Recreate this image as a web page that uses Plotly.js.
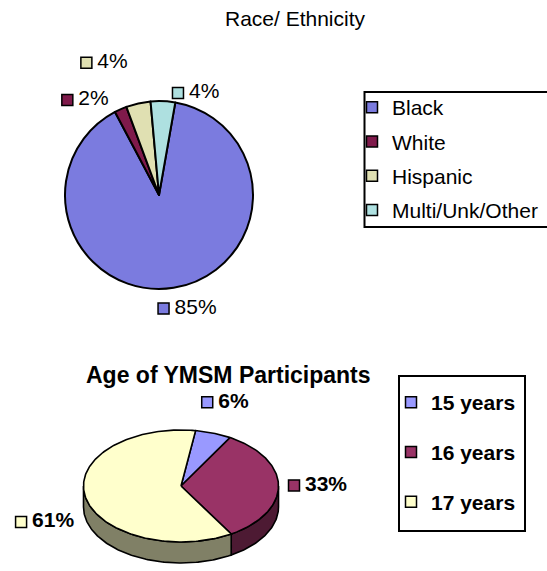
<!DOCTYPE html>
<html><head><meta charset="utf-8">
<script src="https://cdn.plot.ly/plotly-3.0.1.min.js"></script>
<style>html,body{margin:0;padding:0;background:#fff}#chart{width:547px;height:571px}</style>
</head><body><div id="chart"></div>
<script>
// ---------- data ----------
const raceTitle = 'Race/ Ethnicity';
const raceLabels = ['Black', 'White', 'Hispanic', 'Multi/Unk/Other'];
const raceValues = [85, 2, 4, 4];
const raceColors = ['#7b7bdf', '#7f1a4b', '#e0e0b2', '#aee0e0'];

const ageTitle = 'Age of YMSM Participants';
const ageLabels = ['15 years', '16 years', '17 years'];
const ageValues = [6, 33, 61];
const ageColors = ['#9999ff', '#993366', '#ffffcc'];
const ageSideColors = ['#4c4c80', '#4d1a33', '#808066'];

// ---------- layout constants ----------
const W = 547, H = 571;
const FONT = '"Liberation Sans", Arial, sans-serif';
const FS = 21;
const racePie = {cx: 159, cy: 195, r: 94, rotation: 10, gap: 10};
const agePie = {cx: 181, cy: 486, rx: 97.5, ry: 56, depth: 21, rotation: 8.6, gap: 10};
const raceLabelNudge = [[7, 0], [-22, 10], [-27, -20], [31, 13]];
const ageLabelNudge = [[0, -11], [-1, 0], [-2, 0]];
const legendBox1 = {x0: 364.5, x1: 560, y0: 92, y1: 227};
const legendBox2 = {x0: 399, x1: 525, y0: 376, y1: 531};

const ctx = document.createElement('canvas').getContext('2d');
function textWidth(t, bold) {
  ctx.font = (bold ? 'bold ' : '') + FS + 'px "Liberation Sans"';
  return ctx.measureText(t).width;
}
function sliceAngles(values, rot) {
  const tot = values.reduce((a, b) => a + b, 0);
  let a = rot;
  return values.map(v => { const a0 = a; a += v / tot * 360; return [a0, a]; });
}
const D = Math.PI / 180;
function ellPt(p, a, dy) {
  return [p.cx + p.rx * Math.sin(a * D), p.cy - p.ry * Math.cos(a * D) + (dy || 0)];
}
function arc(p, a0, a1, dy) {
  const n = Math.max(2, Math.ceil(Math.abs(a1 - a0)));
  const pts = [];
  for (let k = 0; k <= n; k++) pts.push(ellPt(p, a0 + (a1 - a0) * k / n, dy));
  return pts;
}
function labelSpots(angles, texts, bold, p, nudge) {
  return angles.map(([a0, a1], i) => {
    const m = (a0 + a1) / 2 * D, s = Math.sin(m), c = -Math.cos(m);
    const w = 17.5 + textWidth(texts[i], bold), h = 22;
    const px = p.cx + (p.rx + p.gap) * s;
    const py = p.cy + (p.ry + p.gap) * c + (c > 0 ? (p.depth || 0) : 0);
    const bx = px + w / 2 * s - w / 2 + nudge[i][0];
    const by = py + h / 2 * c + nudge[i][1];
    return {sq: [bx + 6.5, by], tx: [bx + 17.5, by]};
  });
}

const traces = [];

// ---------- top pie (native pie) ----------
traces.push({
  type: 'pie', labels: raceLabels, values: raceValues, sort: false,
  direction: 'clockwise', rotation: racePie.rotation,
  marker: {colors: raceColors, line: {color: '#000', width: 2}},
  textinfo: 'none', hoverinfo: 'skip', showlegend: false,
  domain: {x: [(racePie.cx - racePie.r) / W, (racePie.cx + racePie.r) / W],
           y: [1 - (racePie.cy + racePie.r) / H, 1 - (racePie.cy - racePie.r) / H]}
});

// ---------- bottom pie (3-D look, drawn from the values) ----------
const ageAng = sliceAngles(ageValues, agePie.rotation);
ageAng.forEach(([a0, a1], i) => {
  [0, 360].forEach(off => {
    const b0 = Math.max(a0, 90 + off), b1 = Math.min(a1, 270 + off);
    if (b1 > b0) {
      const top = arc(agePie, b0, b1, 0);
      const bot = arc(agePie, b1, b0, agePie.depth);
      const pts = top.concat(bot); pts.push(top[0]);
      traces.push({type: 'scatter', mode: 'lines', x: pts.map(q => q[0]), y: pts.map(q => q[1]),
        fill: 'toself', fillcolor: ageSideColors[i], line: {color: '#000', width: 1.6},
        hoverinfo: 'skip', showlegend: false});
    }
  });
});
ageAng.forEach(([a0, a1], i) => {
  const pts = [[agePie.cx, agePie.cy]].concat(arc(agePie, a0, a1, 0));
  pts.push([agePie.cx, agePie.cy]);
  traces.push({type: 'scatter', mode: 'lines', x: pts.map(q => q[0]), y: pts.map(q => q[1]),
    fill: 'toself', fillcolor: ageColors[i], line: {color: '#000', width: 1.6},
    hoverinfo: 'skip', showlegend: false});
});

// ---------- data labels ----------
const raceAng = sliceAngles(raceValues, racePie.rotation);
const raceTexts = raceValues.map(v => v + '%');
const raceSpots = labelSpots(raceAng, raceTexts, false,
  {cx: racePie.cx, cy: racePie.cy, rx: racePie.r, ry: racePie.r, gap: racePie.gap}, raceLabelNudge);
const ageTexts = ageValues.map(v => v + '%');
const ageSpots = labelSpots(ageAng, ageTexts, true, agePie, ageLabelNudge);

function labelTraces(spots, texts, colors, bold) {
  traces.push({type: 'scatter', mode: 'markers', x: spots.map(s => s.sq[0]), y: spots.map(s => s.sq[1]),
    marker: {symbol: 'square', size: 11, color: colors, line: {color: '#000', width: 1.5}},
    hoverinfo: 'skip', showlegend: false, cliponaxis: false});
  traces.push({type: 'scatter', mode: 'text', x: spots.map(s => s.tx[0]), y: spots.map(s => s.tx[1]),
    text: texts, textposition: 'middle right',
    textfont: {family: FONT, size: FS, color: '#000', weight: bold ? 'bold' : 'normal'},
    hoverinfo: 'skip', showlegend: false, cliponaxis: false});
}
labelTraces(raceSpots, raceTexts, raceColors, false);
labelTraces(ageSpots, ageTexts, ageColors, true);

// ---------- legend entries ----------
raceLabels.forEach((lab, i) => traces.push({type: 'scatter', mode: 'markers', x: [null], y: [null], name: lab,
  marker: {symbol: 'square', size: 11, color: raceColors[i], line: {color: '#000', width: 1.5}},
  legend: 'legend', legendgroup: 'r' + i, hoverinfo: 'skip'}));
ageLabels.forEach((lab, i) => traces.push({type: 'scatter', mode: 'markers', x: [null], y: [null], name: lab,
  marker: {symbol: 'square', size: 11, color: ageColors[i], line: {color: '#000', width: 1.5}},
  legend: 'legend2', legendgroup: 'a' + i, hoverinfo: 'skip'}));

function boxShape(b) {
  return {type: 'rect', xref: 'paper', yref: 'paper', layer: 'above',
    x0: b.x0 / W, x1: b.x1 / W, y0: 1 - b.y1 / H, y1: 1 - b.y0 / H,
    line: {color: '#000', width: 2}, fillcolor: 'rgba(0,0,0,0)'};
}

const layout = {
  width: W, height: H,
  margin: {l: 0, r: 0, t: 0, b: 0, autoexpand: false},
  paper_bgcolor: '#fff', plot_bgcolor: 'rgba(0,0,0,0)',
  font: {family: FONT, size: FS, color: '#000'},
  title: {text: raceTitle, x: 295 / W, xanchor: 'center', xref: 'paper',
          y: 1 - 19 / H, yanchor: 'middle', yref: 'container', font: {family: FONT, size: FS, color: '#000'}},
  xaxis: {range: [0, W], visible: false, fixedrange: true, domain: [0, 1]},
  yaxis: {range: [H, 0], visible: false, fixedrange: true, domain: [0, 1]},
  showlegend: true,
  legend: {x: 352 / W, xanchor: 'left', y: 1 - 87 / H, yanchor: 'top',
    borderwidth: 0, bgcolor: 'rgba(0,0,0,0)',
    font: {family: FONT, size: FS, color: '#000'}, traceorder: 'grouped', tracegroupgap: 4},
  legend2: {x: 391 / W, xanchor: 'left', y: 1 - 382 / H, yanchor: 'top',
    borderwidth: 0, bgcolor: 'rgba(0,0,0,0)',
    font: {family: FONT, size: FS, color: '#000', weight: 'bold'}, traceorder: 'grouped', tracegroupgap: 19.5},
  shapes: [boxShape(legendBox1), boxShape(legendBox2)],
  annotations: [{text: ageTitle, xref: 'x', yref: 'y', x: 228.5, y: 375, showarrow: false,
    xanchor: 'center', yanchor: 'middle', font: {family: FONT, size: 23, color: '#000', weight: 'bold'}}]
};

Plotly.newPlot('chart', traces, layout, {staticPlot: true, displayModeBar: false});
</script>
</body></html>
